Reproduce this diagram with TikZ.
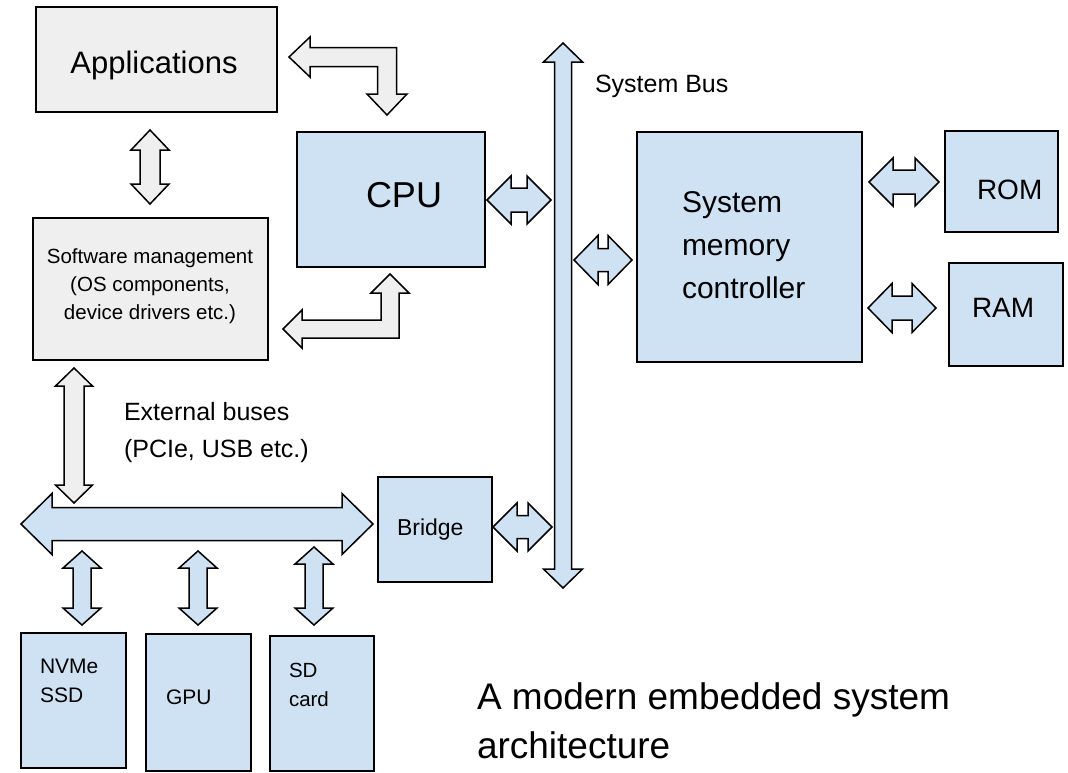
\documentclass[tikz,border=0pt]{standalone}
\usepackage{fontspec}
\setmainfont{Liberation Sans}
\usetikzlibrary{calc}

\definecolor{hwblue}{HTML}{CFE2F3}
\definecolor{swgray}{HTML}{EFEFEF}

% vertical double block arrow: style, top tip, bottom tip, half shaft, half head, head length
\newcommand{\vdblarrow}[6]{%
  \draw[#1] (#2) -- ($(#2)+(#5,#6)$) -- ($(#2)+(#4,#6)$) -- ($(#3)+(#4,-#6)$)
    -- ($(#3)+(#5,-#6)$) -- (#3) -- ($(#3)+(-#5,-#6)$) -- ($(#3)+(-#4,-#6)$)
    -- ($(#2)+(-#4,#6)$) -- ($(#2)+(-#5,#6)$) -- cycle;}
% horizontal double block arrow: style, left tip, right tip, half shaft, half head, head length
\newcommand{\hdblarrow}[6]{%
  \draw[#1] (#2) -- ($(#2)+(#6,-#5)$) -- ($(#2)+(#6,-#4)$) -- ($(#3)+(-#6,-#4)$)
    -- ($(#3)+(-#6,-#5)$) -- (#3) -- ($(#3)+(-#6,#5)$) -- ($(#3)+(-#6,#4)$)
    -- ($(#2)+(#6,#4)$) -- ($(#2)+(#6,#5)$) -- cycle;}

\tikzset{
  boxbase/.style={draw=black, line width=1.5pt, inner sep=0pt, outer sep=0pt, anchor=north west},
  hwbox/.style={boxbase, fill=hwblue},
  swbox/.style={boxbase, fill=swgray},
  hwarrow/.style={draw=black, line width=1.5pt, fill=hwblue, line join=miter},
  swarrow/.style={draw=black, line width=1.5pt, fill=swgray, line join=miter},
  lbl/.style={inner sep=0pt, outer sep=0pt, text=black},
  fs/.style={font=\fontsize{#1}{#1}\selectfont}
}

\begin{document}
\begin{tikzpicture}[x=1pt, y=-1pt]
\useasboundingbox (0,0) rectangle (1068,772);

% ---- boxes ----
\node[swbox, minimum width=241, minimum height=105] (app) at (36,7) {};
\node[swbox, minimum width=235, minimum height=142] (sw) at (33,218) {};
\node[hwbox, minimum width=188, minimum height=135] (cpu) at (297,132) {};
\node[hwbox, minimum width=225, minimum height=230] (mem) at (637,132) {};
\node[hwbox, minimum width=113, minimum height=101] (rom) at (945,131) {};
\node[hwbox, minimum width=114, minimum height=103] (ram) at (949,263) {};
\node[hwbox, minimum width=114, minimum height=105] (bridge) at (378,477) {};
\node[hwbox, minimum width=105, minimum height=135] (nvme) at (21,633) {};
\node[hwbox, minimum width=105, minimum height=137] (gpu) at (146,634) {};
\node[hwbox, minimum width=104, minimum height=135] (sd) at (270,636) {};

% ---- labels ----
\node[lbl, fs=31, anchor=base] (apptxt) at (154,73) {Applications};
\node[lbl, fs=20.5, anchor=base] (swtxt1) at (150,263) {Software management};
\node[lbl, fs=20.5, anchor=base] (swtxt2) at (150,291) {(OS components,};
\node[lbl, fs=20.5, anchor=base] (swtxt3) at (150,319) {device drivers etc.)};
\node[lbl, fs=36, anchor=base west] (cputxt) at (366,207) {CPU};
\node[lbl, fs=25, anchor=base west] (bustxt) at (595,92) {System Bus};
\node[lbl, fs=30, anchor=base west] (memtxt1) at (682,212) {System};
\node[lbl, fs=30, anchor=base west] (memtxt2) at (682,255) {memory};
\node[lbl, fs=30, anchor=base west] (memtxt3) at (682,298) {controller};
\node[lbl, fs=28, anchor=base west] (romtxt) at (977,199) {ROM};
\node[lbl, fs=28, anchor=base west] (ramtxt) at (972,317) {RAM};
\node[lbl, fs=25, anchor=base west] (exttxt1) at (124,420) {External buses};
\node[lbl, fs=25, anchor=base west] (exttxt2) at (124,457) {(PCIe, USB etc.)};
\node[lbl, fs=23, anchor=base west] (brtxt) at (397,535) {Bridge};
\node[lbl, fs=21, anchor=base west] (nvmetxt1) at (40,673) {NVMe};
\node[lbl, fs=21, anchor=base west] (nvmetxt2) at (40,702) {SSD};
\node[lbl, fs=21, anchor=base west] (gputxt) at (166,704) {GPU};
\node[lbl, fs=20.5, anchor=base west] (sdtxt1) at (289,677) {SD};
\node[lbl, fs=20.5, anchor=base west] (sdtxt2) at (289,706) {card};
\node[lbl, fs=37, anchor=base west] (title1) at (477,709) {A modern embedded system};
\node[lbl, fs=37, anchor=base west] (title2) at (477,758) {architecture};

% ---- arrow end points ----
\coordinate (appsw-a) at (150,130);  \coordinate (appsw-b) at (150,204);
\coordinate (cpubus-a) at (487,200); \coordinate (cpubus-b) at (551,200);
\coordinate (busmem-a) at (574,260); \coordinate (busmem-b) at (632,260);
\coordinate (memrom-a) at (869,182); \coordinate (memrom-b) at (939,182);
\coordinate (memram-a) at (868,308); \coordinate (memram-b) at (936,308);
\coordinate (brbus-a) at (493,527);  \coordinate (brbus-b) at (552,527);
\coordinate (swext-a) at (74,368);   \coordinate (swext-b) at (74,503);
\coordinate (ext-l) at (21,524);     \coordinate (ext-r) at (373,524);
\coordinate (d1-a) at (82,551);      \coordinate (d1-b) at (82,625);
\coordinate (d2-a) at (198,551);     \coordinate (d2-b) at (198,625);
\coordinate (d3-a) at (314,547);     \coordinate (d3-b) at (314,625);
\coordinate (sysbus-a) at (563,43);  \coordinate (sysbus-b) at (563,588);

% ---- straight block arrows ----
\vdblarrow{hwarrow}{sysbus-a}{sysbus-b}{8.5}{19.5}{19}
\vdblarrow{swarrow}{appsw-a}{appsw-b}{10}{19}{20}
\hdblarrow{hwarrow}{cpubus-a}{cpubus-b}{12}{24}{24}
\hdblarrow{hwarrow}{busmem-a}{busmem-b}{11.5}{24.5}{24}
\hdblarrow{hwarrow}{memrom-a}{memrom-b}{12}{24}{24}
\hdblarrow{hwarrow}{memram-a}{memram-b}{12}{24.5}{24}
\hdblarrow{hwarrow}{brbus-a}{brbus-b}{11.5}{24}{24}
\vdblarrow{swarrow}{swext-a}{swext-b}{10}{18.5}{18}
\hdblarrow{hwarrow}{ext-l}{ext-r}{16.5}{30.5}{31}
\vdblarrow{hwarrow}{d1-a}{d1-b}{9}{19}{17}
\vdblarrow{hwarrow}{d2-a}{d2-b}{9}{19}{17}
\vdblarrow{hwarrow}{d3-a}{d3-b}{9}{19}{17}

% ---- elbow arrow: Applications <-> CPU ----
\coordinate (ea1) at (289,57);
\coordinate (ea2) at (387,115);
\coordinate (eac) at (ea2 |- ea1);
\draw[swarrow] (ea1) -- ($(ea1)+(21,-20)$) -- ($(ea1)+(21,-9.5)$) -- ($(eac)+(9.5,-9.5)$)
  -- ($(ea2)+(9.5,-21)$) -- ($(ea2)+(20,-21)$) -- (ea2) -- ($(ea2)+(-20,-21)$)
  -- ($(ea2)+(-9.5,-21)$) -- ($(eac)+(-9.5,9.5)$) -- ($(ea1)+(21,9.5)$)
  -- ($(ea1)+(21,20)$) -- cycle;

% ---- elbow arrow: CPU <-> Software management ----
\coordinate (eb1) at (390,274);
\coordinate (eb2) at (283,329);
\coordinate (ebc) at (eb1 |- eb2);
\draw[swarrow] (eb1) -- ($(eb1)+(19,19)$) -- ($(eb1)+(9,19)$) -- ($(ebc)+(9,9)$)
  -- ($(eb2)+(19,9)$) -- ($(eb2)+(19,19)$) -- (eb2) -- ($(eb2)+(19,-19)$)
  -- ($(eb2)+(19,-9)$) -- ($(ebc)+(-9,-9)$) -- ($(eb1)+(-9,19)$)
  -- ($(eb1)+(-19,19)$) -- cycle;
\end{tikzpicture}
\end{document}
